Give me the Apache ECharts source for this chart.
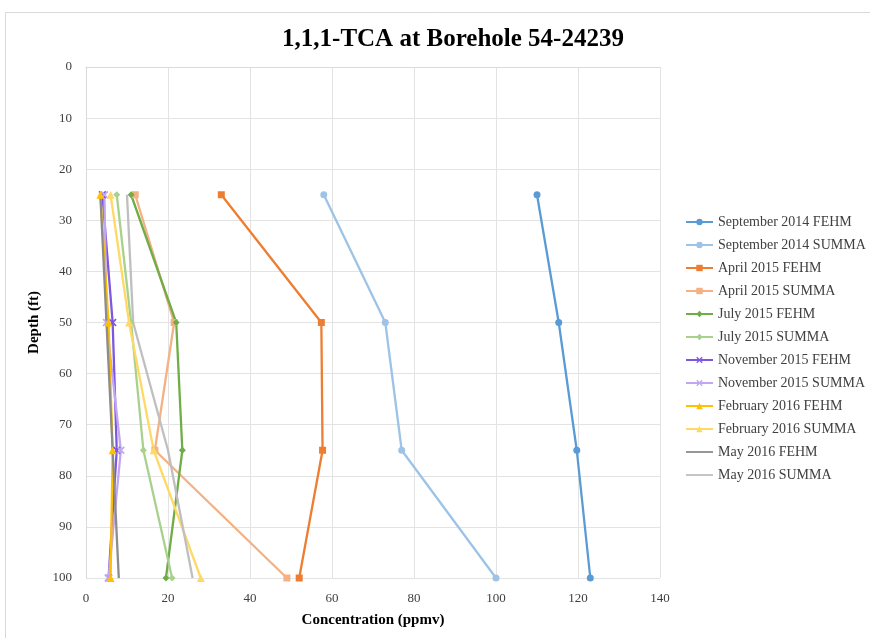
<!DOCTYPE html>
<html>
<head>
<meta charset="utf-8">
<style>
  html, body { margin: 0; padding: 0; background: #fff; }
  #main { width: 870px; height: 638px; }
</style>
<script src="https://cdn.jsdelivr.net/npm/echarts@6/dist/echarts.min.js"></script>
</head>
<body>
<div id="main"></div>
<script>
// depths sampled (ft)
var depths = [25, 50, 75, 100];

// concentrations (ppmv) per sampling event
var sep2014Fehm  = [110, 115.3, 119.7, 123];
var sep2014Summa = [58, 73, 77, 100];
var apr2015Fehm  = [33, 57.4, 57.7, 52];
var apr2015Summa = [12, 21.5, 16.8, 49];
var jul2015Fehm  = [11, 22, 23.5, 19.5];
var jul2015Summa = [7.5, 11, 14, 21];
var nov2015Fehm  = [4, 6.5, 7.5, 5.5];
var nov2015Summa = [4.5, 5, 8.5, 5.5];
var feb2016Fehm  = [3.5, 5.5, 6.5, 6];
var feb2016Summa = [6, 10.5, 16.5, 28];
var may2016Fehm  = [3.5, 5, 6.5, 8];
var may2016Summa = [10, 11.5, 20, 26];

var xTicks = [0, 20, 40, 60, 80, 100, 120, 140];
var yTicks = [0, 10, 20, 30, 40, 50, 60, 70, 80, 90, 100];

var crossPath = 'path://M0,1.5L1.5,0L5,3.5L8.5,0L10,1.5L6.5,5L10,8.5L8.5,10L5,6.5L1.5,10L0,8.5L3.5,5Z';
var lineIcon = 'path://M0,4L30,4L30,6L0,6Z';

var seriesDefs = [
    { name: 'September 2014 FEHM',  data: sep2014Fehm,  color: '#5b9bd5', symbol: 'circle',   size: 7 },
    { name: 'September 2014 SUMMA', data: sep2014Summa, color: '#9dc3e6', symbol: 'circle',   size: 7 },
    { name: 'April 2015 FEHM',      data: apr2015Fehm,  color: '#ed7d31', symbol: 'rect',     size: 7 },
    { name: 'April 2015 SUMMA',     data: apr2015Summa, color: '#f4b183', symbol: 'rect',     size: 7 },
    { name: 'July 2015 FEHM',       data: jul2015Fehm,  color: '#70ad47', symbol: 'diamond',  size: 7 },
    { name: 'July 2015 SUMMA',      data: jul2015Summa, color: '#a9d18e', symbol: 'diamond',  size: 7 },
    { name: 'November 2015 FEHM',   data: nov2015Fehm,  color: '#7e57e0', symbol: crossPath,  size: 8 },
    { name: 'November 2015 SUMMA',  data: nov2015Summa, color: '#c3a6f2', symbol: crossPath,  size: 8 },
    { name: 'February 2016 FEHM',   data: feb2016Fehm,  color: '#ffc000', symbol: 'triangle', size: 8 },
    { name: 'February 2016 SUMMA',  data: feb2016Summa, color: '#ffd966', symbol: 'triangle', size: 8 },
    { name: 'May 2016 FEHM',        data: may2016Fehm,  color: '#8c8c8c', symbol: 'none',     size: 0 },
    { name: 'May 2016 SUMMA',       data: may2016Summa, color: '#bfbfbf', symbol: 'none',     size: 0 }
];

var series = seriesDefs.map(function(s) {
    return {
        name: s.name,
        type: 'line',
        data: s.data.map(function(v, i) { return [v, depths[i]]; }),
        symbol: s.symbol,
        symbolSize: s.size,
        showSymbol: s.symbol !== 'none',
        lineStyle: { color: s.color, width: 2.3 },
        itemStyle: { color: s.color },
        emphasis: { disabled: true },
        animation: false
    };
});

// legend items; the May series have no marker, so show a plain line
var legendData = seriesDefs.map(function(s) {
    return s.symbol === 'none' ? { name: s.name, icon: lineIcon } : { name: s.name };
});

var myChart = echarts.init(document.getElementById('main'));
var font = '"Liberation Serif", "Times New Roman", serif';

var option = {
    backgroundColor: '#fff',
    textStyle: { fontFamily: font },
    color: seriesDefs.map(function(s) { return s.color; }),
    graphic: [{
        type: 'rect',
        shape: { x: 5.5, y: 12.5, width: 880, height: 640 },
        style: { fill: 'none', stroke: '#d9d9d9', lineWidth: 1 },
        silent: true
    }],
    title: {
        text: '1,1,1-TCA at Borehole 54-24239',
        left: 448,
        textAlign: 'center',
        top: 22,
        textStyle: { fontFamily: font, fontSize: 25, fontWeight: 'bold', color: '#000' }
    },
    legend: {
        orient: 'vertical',
        left: 680,
        top: 210,
        itemWidth: 27,
        itemHeight: 8,
        itemGap: 9,
        textStyle: { fontFamily: font, fontSize: 14, color: '#404040' },
        data: legendData
    },
    grid: { left: 86, right: 210, top: 67, bottom: 60 },
    xAxis: {
        type: 'value',
        min: 0, max: 140, interval: 20,
        name: 'Concentration (ppmv)',
        nameLocation: 'middle',
        nameGap: 35,
        nameTextStyle: { fontFamily: font, fontSize: 15, fontWeight: 'bold', color: '#000' },
        axisLine: { show: true, lineStyle: { color: '#d9d9d9' } },
        axisTick: { show: false },
        axisLabel: {
            fontFamily: font, fontSize: 13, color: '#404040', margin: 14,
            formatter: function(v) { return xTicks.indexOf(v) >= 0 ? String(v) : ''; }
        },
        splitLine: { lineStyle: { color: '#e3e3e3' } }
    },
    yAxis: {
        type: 'value',
        inverse: true,
        min: 0, max: 100, interval: 10,
        name: 'Depth (ft)',
        nameLocation: 'middle',
        nameGap: 42,
        nameRotate: 90,
        nameTextStyle: { fontFamily: font, fontSize: 15, fontWeight: 'bold', color: '#000' },
        axisLine: { show: true, lineStyle: { color: '#d9d9d9' } },
        axisTick: { show: false },
        axisLabel: {
            fontFamily: font, fontSize: 13, color: '#404040', margin: 14,
            formatter: function(v) { return yTicks.indexOf(v) >= 0 ? String(v) : ''; }
        },
        splitLine: { lineStyle: { color: '#e3e3e3' } }
    },
    series: series
};

myChart.setOption(option);
</script>
</body>
</html>
